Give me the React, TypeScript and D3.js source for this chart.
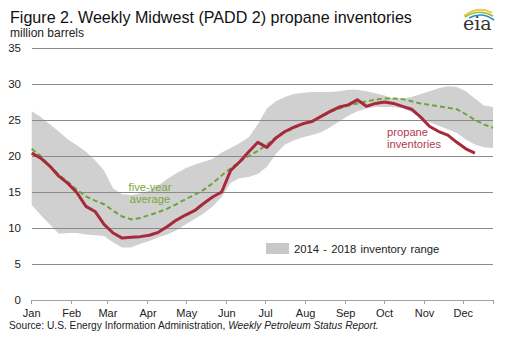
import React from "react";
import * as d3 from "d3";

const months = ["Jan", "Feb", "Mar", "Apr", "May", "Jun", "Jul", "Aug", "Sep", "Oct", "Nov", "Dec"];
const monthStartDays = [0, 31, 59, 90, 120, 151, 181, 212, 243, 273, 304, 334];
const yTicks = [0, 5, 10, 15, 20, 25, 30, 35];

const propane = [20.4, 19.7, 18.6, 17.2, 16.2, 14.9, 13.0, 12.3, 10.5, 9.3, 8.6, 8.7, 8.8, 9.0, 9.4, 10.2, 11.1, 11.8, 12.4, 13.4, 14.3, 15.0, 18.0, 19.2, 20.6, 21.9, 21.2, 22.5, 23.4, 24.0, 24.5, 24.8, 25.5, 26.2, 26.8, 27.1, 27.8, 26.9, 27.3, 27.5, 27.3, 26.9, 26.5, 25.4, 24.1, 23.4, 22.9, 21.9, 21.0, 20.4];
const fiveYearAvg = [21.0, 20.0, 18.6, 17.4, 16.4, 15.3, 14.4, 13.8, 13.3, 12.4, 11.6, 11.2, 11.4, 11.8, 12.2, 12.7, 13.3, 14.0, 14.6, 15.3, 16.2, 17.3, 18.3, 19.2, 20.0, 20.7, 21.6, 22.6, 23.3, 23.9, 24.4, 24.9, 25.5, 26.1, 26.6, 27.0, 27.3, 27.6, 27.8, 28.0, 28.0, 27.9, 27.6, 27.3, 27.1, 26.9, 26.7, 26.5, 25.8, 25.0, 24.4, 23.9];
const rangeHigh = [26.2, 25.4, 24.4, 23.4, 22.3, 21.5, 20.6, 19.4, 18.0, 15.5, 14.7, 14.6, 14.8, 15.2, 15.9, 16.8, 17.6, 18.3, 18.8, 19.2, 19.6, 20.5, 21.1, 21.8, 22.6, 24.4, 26.6, 27.6, 28.2, 28.6, 28.8, 28.9, 28.9, 28.9, 29.0, 29.2, 29.2, 29.0, 28.7, 28.4, 28.0, 28.0, 28.2, 28.6, 29.0, 29.4, 29.7, 29.6, 29.0, 28.0, 27.0, 26.8];
const rangeLow = [13.2, 11.8, 10.5, 9.2, 9.3, 9.3, 9.1, 9.0, 8.9, 8.0, 7.3, 7.3, 7.8, 8.2, 8.7, 9.1, 9.7, 10.5, 11.2, 12.0, 13.0, 14.3, 16.3, 16.9, 17.1, 17.5, 18.5, 20.3, 21.6, 22.2, 22.6, 22.9, 23.3, 24.0, 24.8, 25.6, 26.2, 26.6, 26.8, 26.8, 26.8, 26.6, 26.1, 25.3, 24.7, 24.2, 23.7, 23.2, 22.3, 21.6, 21.2, 21.1];

const W = 511;
const H = 342;
const font = "Arial, 'Liberation Sans', sans-serif";

export default function App() {
  const x = d3.scaleLinear().domain([0, 357]).range([31.7, 493]);
  const y = d3.scaleLinear().domain([0, 35]).range([300, 48]);
  const wx = (i: number) => x(i * 7);

  const area = d3
    .area<number>()
    .x((_, i) => wx(i))
    .y0((_, i) => y(rangeLow[i]))
    .y1((d) => y(d));
  const line = d3
    .line<number>()
    .x((_, i) => wx(i))
    .y((d) => y(d));

  return (
    <svg width={W} height={H} style={{ position: "absolute", left: 0, top: 0, background: "#fff" }}>
      <rect x={0} y={0} width={W} height={H} fill="#fff" />
      <text x={10} y={23} fontFamily={font} fontSize={16.1} fill="#111">
        Figure 2. Weekly Midwest (PADD 2) propane inventories
      </text>
      <text x={10} y={37} fontFamily={font} fontSize={12} fill="#222">
        million barrels
      </text>

      {/* eia logo */}
      <g>
        <path d="M464,16 Q478,5 492,13" fill="none" stroke="#f2c230" strokeWidth={1.6} />
        <path d="M465,17 Q479,8 493,16" fill="none" stroke="#8cc43c" strokeWidth={1.6} />
        <path d="M469,18 Q482,11 494,20" fill="none" stroke="#2a8cc8" strokeWidth={1.6} />
        <text x={463} y={30} fontFamily="'DejaVu Serif', 'Liberation Serif', serif" fontSize={19} fill="#333">
          eia
        </text>
      </g>

      <path d={area(rangeHigh) ?? ""} fill="#d0d0d0" />

      {yTicks.map((t) => (
        <g key={t}>
          <line
            x1={31.7}
            x2={493}
            y1={y(t)}
            y2={y(t)}
            stroke={t === 0 ? "#a0a0a0" : "#8a8a8a"}
            strokeWidth={1}
            shapeRendering="crispEdges"
          />
          <text x={21} y={y(t) + 4} textAnchor="end" fontFamily={font} fontSize={11.5} fill="#222">
            {t}
          </text>
        </g>
      ))}

      {monthStartDays.map((d) => (
        <line key={d} x1={x(d)} x2={x(d)} y1={300} y2={304} stroke="#a0a0a0" shapeRendering="crispEdges" />
      ))}
      <line x1={493} x2={493} y1={300} y2={304} stroke="#a0a0a0" shapeRendering="crispEdges" />
      {months.map((m, i) => (
        <text key={m} x={x(monthStartDays[i])} y={316.5} textAnchor="middle" fontFamily={font} fontSize={11} fill="#222">
          {m}
        </text>
      ))}

      <path d={line(fiveYearAvg) ?? ""} fill="none" stroke="#6ea33a" strokeWidth={2} strokeDasharray="5,3" />
      <path d={line(propane) ?? ""} fill="none" stroke="#a8283c" strokeWidth={3} strokeLinejoin="round" />

      <text fontFamily={font} fontSize={11.2} fill="#7aa63a" textAnchor="middle">
        <tspan x={150} y={191}>five-year</tspan>
        <tspan x={150} y={203}>average</tspan>
      </text>
      <text fontFamily={font} fontSize={11.2} fill="#b23a4e">
        <tspan x={387} y={136}>propane</tspan>
        <tspan x={387} y={148}>inventories</tspan>
      </text>

      <rect x={266} y={243} width={23} height={11} fill="#c8c8c8" />
      <text x={294} y={253} fontFamily={font} fontSize={11.3} fill="#222" wordSpacing={1}>
        2014 - 2018 inventory range
      </text>

      <text x={9} y={328.5} fontFamily={font} fontSize={10.2} fill="#222">
        Source: U.S. Energy Information Administration, <tspan fontStyle="italic">Weekly Petroleum Status Report.</tspan>
      </text>
    </svg>
  );
}
